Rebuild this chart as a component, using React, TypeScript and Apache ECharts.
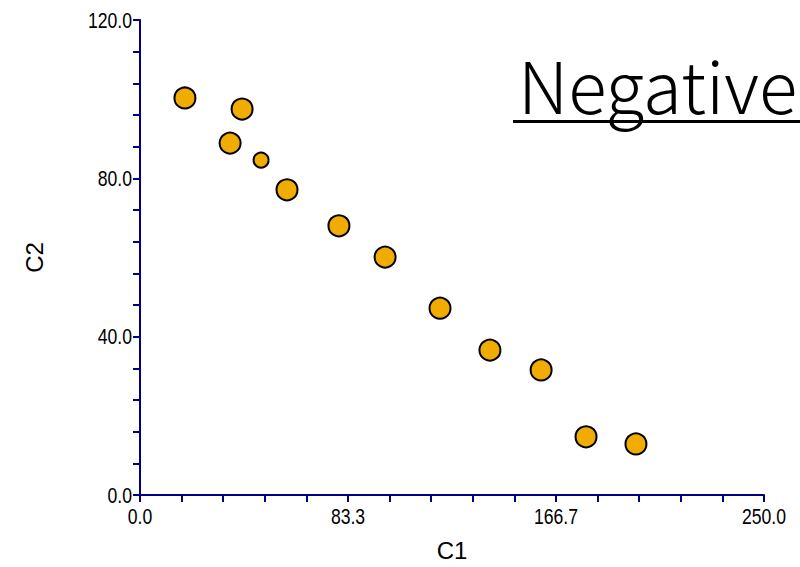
import React, { useEffect, useRef } from "react";
import * as echarts from "echarts";

const xValues = [18.0, 40.9, 36.1, 48.5, 58.9, 79.7, 98.2, 120.2, 140.2, 160.7, 178.7, 198.7];
const yValues = [100.3, 97.5, 88.9, 84.6, 77.1, 68.0, 60.1, 47.2, 36.6, 31.6, 14.7, 12.9];
const weights = [1, 1, 1, 0.7, 1, 1, 1, 1, 1, 1, 1, 1];
const xTickValues = [0, 250 / 3, 500 / 3, 250];
const yTickValues = [0, 40, 80, 120];
const xAxisName = "C1";
const yAxisName = "C2";
const titleText = "Negative";

const NAVY = "#000080";
const labelFont = "22px 'Liberation Sans', Arial, sans-serif";
const SQUEEZE = 0.8;

export default function App() {
  const ref = useRef<HTMLDivElement>(null);
  useEffect(() => {
    if (!ref.current) return;
    const chart = echarts.init(ref.current, undefined, { renderer: "svg" });
    const data = xValues.map((x, i) => [x, yValues[i], weights[i]]);
    const axisCommon = {
      axisLine: { show: true, lineStyle: { color: NAVY, width: 2 } },
      axisTick: { show: true, inside: false, length: 7, lineStyle: { color: NAVY, width: 2 } },
      minorTick: { show: true, splitNumber: 5, length: 7, lineStyle: { color: NAVY, width: 2 } },
      splitLine: { show: false },
      minorSplitLine: { show: false },
      axisLabel: { show: false },
      nameLocation: "middle" as const,
      nameTextStyle: { color: "#000", fontSize: 24, fontFamily: "'Liberation Sans', Arial, sans-serif" },
    };
    const titleGraphics: any[] = [
      {
        type: "text",
        left: 518,
        top: 47,
        style: {
          text: titleText,
          fill: "#000",
          font: "300 71px 'Noto Sans CJK JP', 'Noto Sans', sans-serif",
        },
        z: 10,
      },
      {
        type: "rect",
        shape: { x: 513, y: 120, width: 300, height: 3 },
        style: { fill: "#000" },
        z: 10,
      },
    ];
    chart.setOption({
      animation: false,
      backgroundColor: "#fff",
      grid: { left: 140, right: 36, top: 20, bottom: 72, containLabel: false },
      xAxis: {
        type: "value",
        min: 0,
        max: 250,
        interval: 250 / 3,
        name: xAxisName,
        nameGap: 43,
        ...axisCommon,
      },
      yAxis: {
        type: "value",
        min: 0,
        max: 120,
        interval: 40,
        name: yAxisName,
        nameGap: 94,
        nameRotate: 90,
        ...axisCommon,
      },
      graphic: titleGraphics,
      series: [
        {
          type: "scatter",
          data,
          symbol: "circle",
          symbolSize: (val: number[]) => (val[2] < 1 ? 15 : 21),
          itemStyle: { color: "#F0AC00", borderColor: "#000", borderWidth: 2, opacity: 1 },
          emphasis: { disabled: true },
        },
      ],
    });
    const labelGraphics: any[] = [];
    xTickValues.forEach((v) => {
      const p = chart.convertToPixel({ gridIndex: 0 }, [v, 0]) as number[];
      labelGraphics.push({
        type: "text",
        x: p[0],
        y: p[1] + 10,
        scaleX: SQUEEZE,
        style: { text: v.toFixed(1), fill: "#000", font: labelFont, align: "center", verticalAlign: "top" },
      });
    });
    yTickValues.forEach((v) => {
      const p = chart.convertToPixel({ gridIndex: 0 }, [0, v]) as number[];
      labelGraphics.push({
        type: "text",
        x: p[0] - 8,
        y: p[1],
        scaleX: SQUEEZE,
        style: { text: v.toFixed(1), fill: "#000", font: labelFont, align: "right", verticalAlign: "middle" },
      });
    });
    chart.setOption({ graphic: [...titleGraphics, ...labelGraphics] });
    return () => chart.dispose();
  }, []);
  return <div ref={ref} style={{ width: 800, height: 567, position: "absolute", left: 0, top: 0 }} />;
}
